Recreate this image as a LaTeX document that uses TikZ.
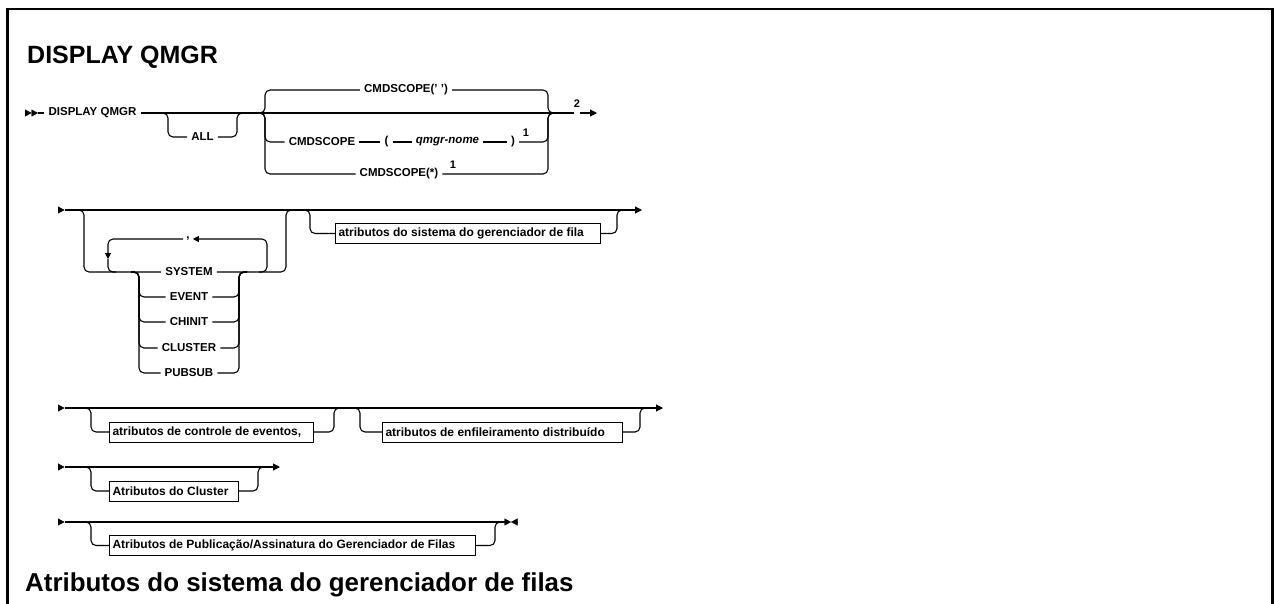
\documentclass[tikz,border=0pt]{standalone}
\usepackage{fontspec}
\setmainfont{Liberation Sans}
\usetikzlibrary{arrows.meta}
\newcommand\kwfont{\fontsize{11.5}{13}\selectfont\bfseries}
\newcommand\bxfont{\fontsize{12}{14}\selectfont\bfseries}
\newcommand\fnfont{\fontsize{11}{12}\selectfont\bfseries}
\newcommand\ttlfont{\fontsize{25}{30}\selectfont\bfseries}
\newcommand\hdfont{\fontsize{25.9}{30}\selectfont\bfseries}
\newcommand\bxtext[2]{\makebox[#1][l]{#2}}
\tikzset{
  rail/.style={line width=1.1pt, rounded corners=5pt},
  kw/.style={font=\kwfont, inner xsep=4pt, inner ysep=1pt},
  fn/.style={font=\fnfont, inner sep=0pt},
  bx/.style={draw, line width=1pt, anchor=west, minimum height=20pt, inner xsep=3pt, inner ysep=0pt, font=\bxfont},
  tip/.style={line width=0.4pt, -{Triangle[length=6.5pt,width=7pt]}},
  railend/.style={rail, -{Triangle[length=7pt,width=7pt]}},
  looptip/.style={rail, -{Triangle[length=6pt,width=6pt]}},
}
\begin{document}
\begin{tikzpicture}[x=1pt,y=-1pt]
\useasboundingbox (0,0) rectangle (1274,603);
\fill[white] (0,0) rectangle (1274,603);
\clip (0,0) rectangle (1274,603);
% frame
\draw[line width=2.6pt] (7.3,620) -- (7.3,8.8) -- (1272.5,8.8) -- (1272.5,620);
% titles
\node[font=\ttlfont, anchor=base west, inner sep=0pt] (title) at (27,63) {DISPLAY QMGR};
\node[font=\hdfont, anchor=base west, inner sep=0pt] (head) at (25,591) {Atributos do sistema do gerenciador de filas};

% ---------------- Row 1 ----------------
\coordinate (s1) at (38,113);
\coordinate (j1) at (265,113);
\coordinate (j2) at (548,113);
\coordinate (m1) at (574,113);
\coordinate (e1) at (597,113);
\node[kw] (dq) at (92.5,113) {DISPLAY QMGR};
\node[kw] (all) at (202.5,137) {ALL};
\coordinate (a1) at (168,113);
\coordinate (a2) at (237,113);
\node[kw] (c1) at (406,90) {CMDSCOPE(' ')};
\node[kw] (c2) at (322,142) {CMDSCOPE};
\node[kw] (lp) at (386.5,142) {(};
\node[kw, font=\kwfont\itshape] (qn) at (447.5,142) {qmgr-nome};
\node[kw] (rp) at (513,142) {)};
\node[fn] (n1a) at (526,133) {1};
\node[kw] (c3) at (399,174) {CMDSCOPE(*)};
\node[fn] (n1b) at (453,165) {1};
\node[fn] (n2) at (577,104) {2};

\draw[tip] ([xshift=-13pt]s1) -- ([xshift=-6.5pt]s1);
\draw[tip] ([xshift=-6.5pt]s1) -- (s1);
\draw[rail] (s1) -- (dq.west);
\draw[rail] (dq.east) -- (j1) -- (j2) -- (m1);
\draw[railend] ([xshift=-17pt]e1) -- (e1);
\draw[rail] ([xshift=-8pt]a1) -- (a1) -- (a1 |- all) -- (all.west);
\draw[rail] (all.east) -- (a2 |- all) -- (a2) -- ([xshift=8pt]a2);
\draw[rail] ([xshift=-8pt]j1) -- (j1) -- (j1 |- c1) -- (c1.west);
\draw[rail] (c1.east) -- (j2 |- c1) -- (j2) -- ([xshift=8pt]j2);
\draw[rail] ([xshift=-8pt]j1) -- (j1) -- (j1 |- c2) -- (c2.west);
\draw[rail] (c2.east) -- (lp.west);
\draw[rail] (lp.east) -- (qn.west);
\draw[rail] (qn.east) -- (rp.west);
\draw[rail] (rp.east) -- (j2 |- rp) -- (j2) -- ([xshift=8pt]j2);
\draw[rail] ([xshift=-8pt]j1) -- (j1) -- (j1 |- c3) -- (c3.west);
\draw[rail] (c3.east) -- (j2 |- c3) -- (j2) -- ([xshift=8pt]j2);

% ---------------- Row 2 ----------------
\coordinate (s2) at (64.5,210);
\coordinate (e2) at (642,210);
\coordinate (j3) at (84,210);
\coordinate (j4) at (286,210);
\coordinate (i1) at (139,272);
\coordinate (i2) at (239,272);
\coordinate (lp1) at (108,272);
\coordinate (lp2) at (267,272);
\coordinate (ld) at (108,259);
\coordinate (j5) at (310,210);
\coordinate (j6) at (617,210);
\node[kw] (sys) at (189,272) {SYSTEM};
\node[kw] (ev) at (189,297) {EVENT};
\node[kw] (ch) at (189,322) {CHINIT};
\node[kw] (cl) at (189,348) {CLUSTER};
\node[kw] (ps) at (189,373) {PUBSUB};
\node[kw, inner xsep=3pt] (cm) at (188,239) {,};
\node[bx] (bx1) at (335,233.5) {\bxtext{259pt}{atributos do sistema do gerenciador de fila}};

\draw[tip] ([xshift=-6.5pt]s2) -- (s2);
\draw[railend] (s2) -- (e2);
\draw[rail] ([xshift=-8pt]j3) -- (j3) -- (j3 |- sys) -- (sys.west);
\draw[rail] (sys.east) -- (j4 |- sys) -- (j4) -- ([xshift=8pt]j4);
\foreach \o in {ev,ch,cl,ps}{
  \draw[rail] ([xshift=-8pt]i1) -- (i1) -- (i1 |- \o) -- (\o.west);
  \draw[rail] (\o.east) -- (i2 |- \o) -- (i2) -- ([xshift=8pt]i2);
}
\draw[looptip] ([xshift=-8pt]lp2) -- (lp2) -- (lp2 |- cm) -- (cm.east);
\draw[looptip] (cm.west) -- (lp1 |- cm) -- (ld);
\draw[rail] (ld) -- (lp1) -- ([xshift=8pt]lp1);
\draw[rail] ([xshift=-8pt]j5) -- (j5) -- (j5 |- bx1) -- (bx1.west);
\draw[rail] (bx1.east) -- (j6 |- bx1) -- (j6) -- ([xshift=8pt]j6);

% ---------------- Row 3 ----------------
\coordinate (s3) at (64.5,408);
\coordinate (e3) at (663,408);
\coordinate (j7) at (91,408);
\coordinate (j8) at (334,408);
\coordinate (j9) at (360,408);
\coordinate (j10) at (640,408);
\node[bx] (bx2) at (109,432) {\bxtext{198pt}{atributos de controle de eventos,}};
\node[bx] (bx3) at (382,432) {\bxtext{234pt}{atributos de enfileiramento distribuído}};
\draw[tip] ([xshift=-6.5pt]s3) -- (s3);
\draw[railend] (s3) -- (e3);
\draw[rail] ([xshift=-8pt]j7) -- (j7) -- (j7 |- bx2) -- (bx2.west);
\draw[rail] (bx2.east) -- (j8 |- bx2) -- (j8) -- ([xshift=8pt]j8);
\draw[rail] ([xshift=-8pt]j9) -- (j9) -- (j9 |- bx3) -- (bx3.west);
\draw[rail] (bx3.east) -- (j10 |- bx3) -- (j10) -- ([xshift=8pt]j10);

% ---------------- Row 4 ----------------
\coordinate (s4) at (64.5,467);
\coordinate (e4) at (280,467);
\coordinate (j11) at (91,467);
\coordinate (j12) at (258,467);
\node[bx] (bx4) at (109,491) {\bxtext{123pt}{Atributos do Cluster}};
\draw[tip] ([xshift=-6.5pt]s4) -- (s4);
\draw[railend] (s4) -- (e4);
\draw[rail] ([xshift=-8pt]j11) -- (j11) -- (j11 |- bx4) -- (bx4.west);
\draw[rail] (bx4.east) -- (j12 |- bx4) -- (j12) -- ([xshift=8pt]j12);

% ---------------- Row 5 ----------------
\coordinate (s5) at (64.5,522);
\coordinate (e5) at (511,522);
\coordinate (j13) at (91,522);
\coordinate (j14) at (495,522);
\node[bx] (bx5) at (109,545.5) {\bxtext{360pt}{Atributos de Publicação/Assinatura do Gerenciador de Filas}};
\draw[tip] ([xshift=-6.5pt]s5) -- (s5);
\draw[rail] (s5) -- ([xshift=-6pt]e5);
\draw[rail] ([xshift=-8pt]j13) -- (j13) -- (j13 |- bx5) -- (bx5.west);
\draw[rail] (bx5.east) -- (j14 |- bx5) -- (j14) -- ([xshift=8pt]j14);
\draw[tip] ([xshift=-6pt]e5) -- (e5);
\draw[tip] ([xshift=6pt]e5) -- (e5);
\end{tikzpicture}
\end{document}
